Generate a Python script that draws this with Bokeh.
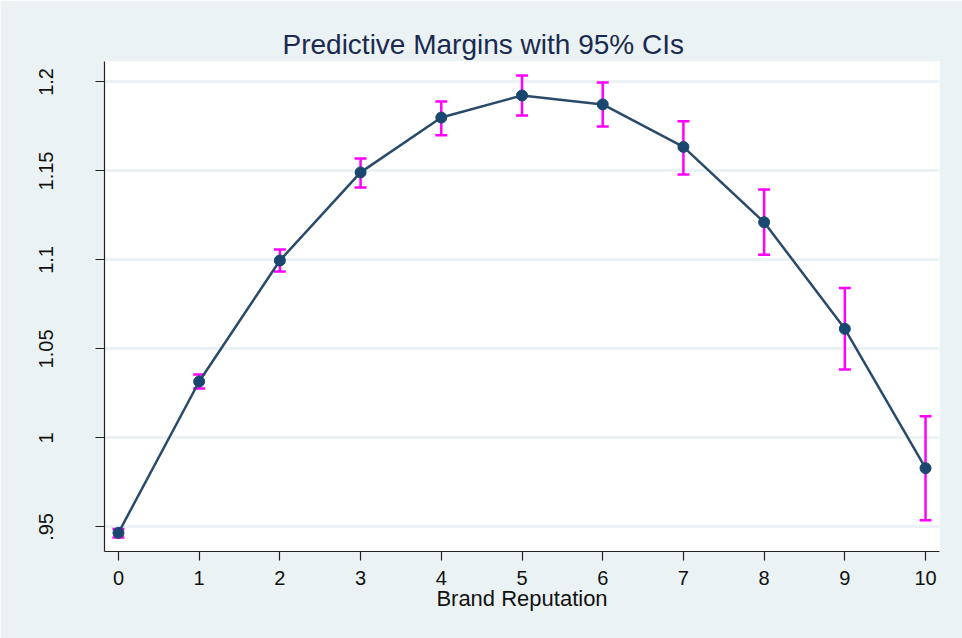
from bokeh.plotting import figure
from bokeh.models import ColumnDataSource, Whisker, TeeHead, FixedTicker, Range1d
from bokeh.embed import file_html
from bokeh.resources import INLINE

# Data
reputation = [0, 1, 2, 3, 4, 5, 6, 7, 8, 9, 10]
margin = [0.9467, 1.0317, 1.0997, 1.1492, 1.1800, 1.1924, 1.1874, 1.1635, 1.1212, 1.0613, 0.9830]
ci_low = [0.9440, 1.0278, 1.0935, 1.1407, 1.1700, 1.1812, 1.1750, 1.1480, 1.1029, 1.0385, 0.9537]
ci_high = [0.9489, 1.0357, 1.1059, 1.1570, 1.1890, 1.2037, 1.1997, 1.1780, 1.1396, 1.0842, 1.0122]
y_ticks = [0.95, 1.0, 1.05, 1.1, 1.15, 1.2]
y_tick_labels = [".95", "1", "1.05", "1.1", "1.15", "1.2"]

BG = "#EAF2F3"
NAVY = "#1a476f"
FONT = "Liberation Sans"

src = ColumnDataSource(dict(x=reputation, y=margin, lo=ci_low, hi=ci_high))

p = figure(width=962, height=638, output_backend="svg", toolbar_location=None,
           x_range=Range1d(-0.173, 10.173), y_range=Range1d(0.9362, 1.2115),
           min_border_left=104, min_border_right=23, min_border_top=61, min_border_bottom=87)

p.background_fill_color = "white"
p.border_fill_color = BG
p.outline_line_color = None

p.title.text = "Predictive Margins with 95% CIs"
p.title.align = "left"
p.title.offset = 178
p.title.text_font = FONT
p.title.text_font_size = "28px"
p.title.text_font_style = "normal"
p.title.text_color = "#1a2a50"
p.title.standoff = 4

# Grid
p.xgrid.grid_line_color = None
p.ygrid.grid_line_color = BG
p.ygrid.grid_line_width = 3
p.ygrid.ticker = FixedTicker(ticks=y_ticks)

# Axes
p.xaxis.ticker = FixedTicker(ticks=reputation)
p.yaxis.ticker = FixedTicker(ticks=y_ticks)
p.yaxis.major_label_overrides = {t: l for t, l in zip(y_ticks, y_tick_labels)}
p.yaxis.major_label_orientation = "vertical"
p.xaxis.axis_label = "Brand Reputation"

for ax in (p.xaxis[0], p.yaxis[0]):
    ax.axis_line_color = "#222222"
    ax.axis_line_width = 1.2
    ax.major_tick_line_color = "#222222"
    ax.major_tick_line_width = 1.2
    ax.major_tick_out = 9
    ax.major_tick_in = 0
    ax.minor_tick_line_color = None
    ax.major_label_text_font = FONT
    ax.major_label_text_font_size = "20px"
    ax.major_label_text_color = "#111111"
    ax.axis_label_text_font = FONT
    ax.axis_label_text_font_size = "22px"
    ax.axis_label_text_font_style = "normal"
    ax.axis_label_text_color = "#111111"

p.xaxis.major_label_standoff = 10
p.xaxis.axis_label_standoff = -2
p.yaxis.major_label_standoff = 42

# Confidence intervals
whisker = Whisker(source=src, base="x", upper="hi", lower="lo",
                  line_color="#FF00FF", line_width=2.5,
                  upper_head=TeeHead(size=12, line_color="#FF00FF", line_width=2.5),
                  lower_head=TeeHead(size=12, line_color="#FF00FF", line_width=2.5))
p.add_layout(whisker)

# Line and markers
p.line("x", "y", source=src, line_color="#2a4a6c", line_width=2.5)
p.scatter("x", "y", source=src, size=11, fill_color=NAVY, line_color=NAVY)

open("out.html", "w").write(file_html(p, INLINE))
